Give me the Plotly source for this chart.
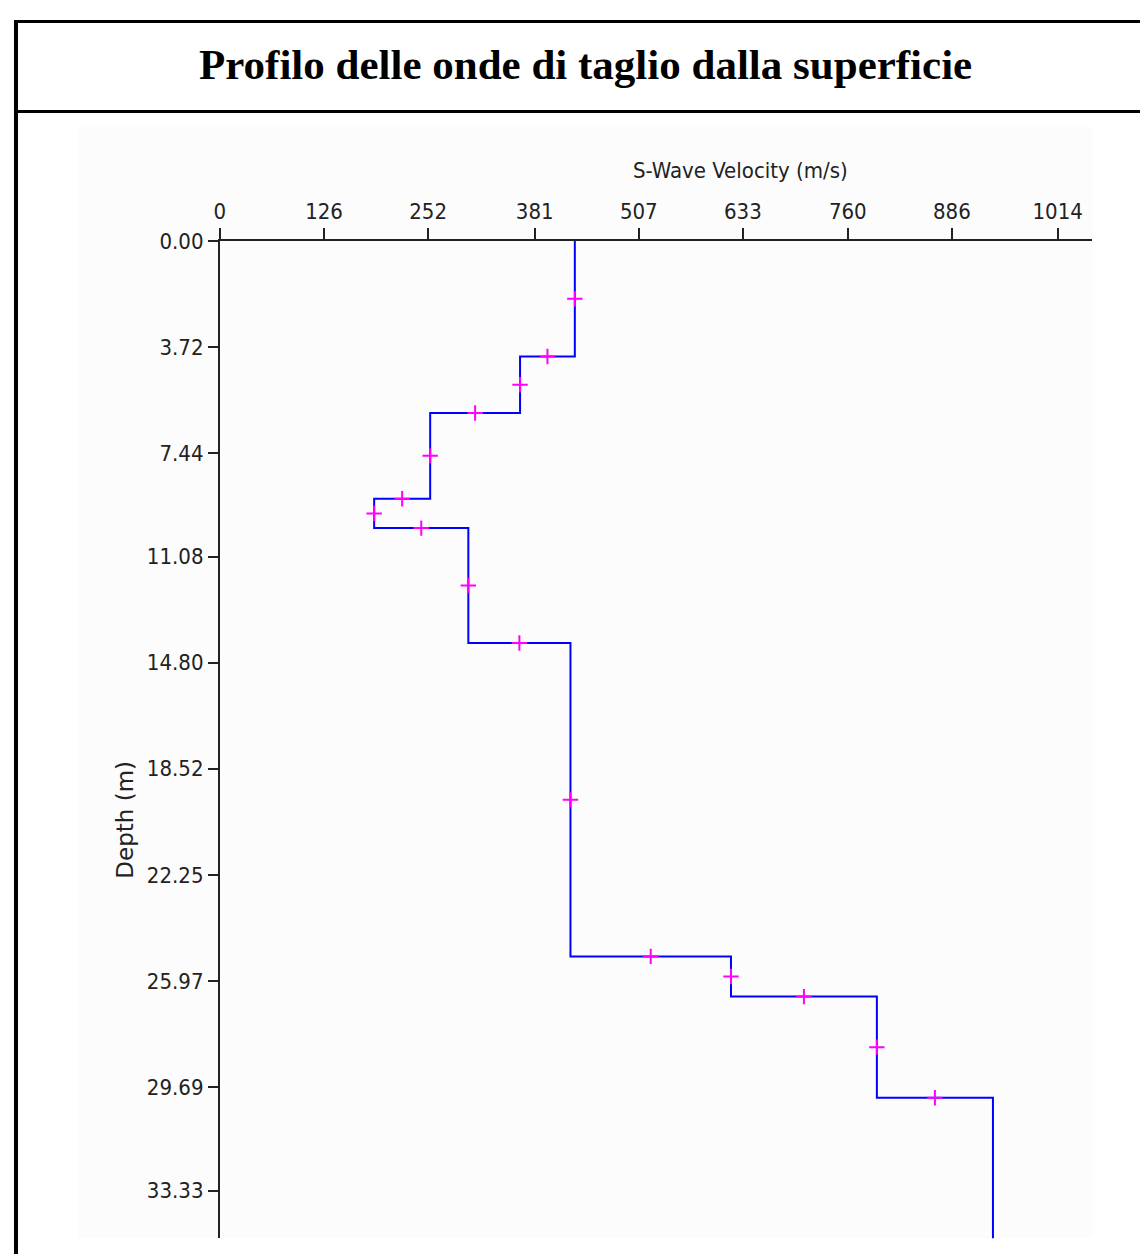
import plotly.graph_objects as go

# ---- data ----
layer_velocity = [429.6, 363.3, 254.5, 186.7, 300.7, 424.3, 618.6, 795.2, 935.7]   # m/s
layer_bottom = [4.06, 6.04, 9.05, 10.08, 14.11, 25.11, 26.52, 30.07, 42.0]          # m (last = half-space, drawn past axis end)
x_tick_vals = [0, 126, 252, 381, 507, 633, 760, 886, 1014]
x_tick_text = ["0", "126", "252", "381", "507", "633", "760", "886", "1014"]
y_tick_vals = [0.00, 3.72, 7.44, 11.08, 14.80, 18.52, 22.25, 25.97, 29.69, 33.33]
y_tick_text = ["0.00", "3.72", "7.44", "11.08", "14.80", "18.52", "22.25", "25.97", "29.69", "33.33"]
title_text = "Profilo delle onde di taglio dalla superficie"
x_title = "S-Wave Velocity (m/s)"
y_title = "Depth (m)"

# ---- build step profile and segment mid markers ----
step_x, step_y = [], []
mark_x, mark_y = [], []
top = 0.0
for i, (v, b) in enumerate(zip(layer_velocity, layer_bottom)):
    step_x += [v, v]
    step_y += [top, b]
    mark_x.append(v)
    mark_y.append((top + b) / 2)
    if i + 1 < len(layer_velocity):
        nv = layer_velocity[i + 1]
        mark_x.append((v + nv) / 2)
        mark_y.append(b)
    top = b

W, H = 1148, 1254
OFF = 8  # page body margin: figure starts 8px into the window

def px(x):
    return (x - OFF) / W

def py(y):
    return 1 - (y - OFF) / H

tick_font = dict(family="DejaVu Sans Condensed, DejaVu Sans, sans-serif", size=22, color="#222222")

fig = go.Figure()
fig.add_trace(go.Scatter(x=step_x, y=step_y, mode="lines",
                         line=dict(color="#0000ff", width=2), showlegend=False, hoverinfo="skip"))
fig.add_trace(go.Scatter(x=mark_x, y=mark_y, mode="markers",
                         marker=dict(symbol="cross-thin", size=11, line=dict(color="#ff00ff", width=2)),
                         showlegend=False))

fig.update_layout(
    width=W, height=H,
    margin=dict(l=0, r=0, t=0, b=0),
    paper_bgcolor="white",
    plot_bgcolor="#fcfcfc",
    xaxis=dict(domain=[px(215), px(1092)], range=[0, 1056], side="top",
               tickvals=x_tick_vals, ticktext=x_tick_text, tickfont=tick_font,
               ticks="outside", ticklen=11, tickwidth=2, tickcolor="#222222",
               showline=True, linecolor="#222222", linewidth=2,
               showgrid=False, zeroline=False, anchor="y"),
    yaxis=dict(domain=[py(1238), py(231)], range=[35.0, 0],
               tickvals=y_tick_vals, ticktext=y_tick_text, tickfont=tick_font,
               ticks="outside", ticklen=10, tickwidth=2, tickcolor="#222222",
               showline=True, linecolor="#222222", linewidth=2,
               showgrid=False, zeroline=False, anchor="x"),
    shapes=[
        dict(type="rect", xref="paper", yref="paper", x0=px(73), x1=px(1092), y0=py(1238), y1=py(116),
             fillcolor="#fcfcfc", line=dict(width=0), layer="below"),
        dict(type="line", xref="paper", yref="paper", x0=px(8), x1=1, y0=py(9.5), y1=py(9.5),
             line=dict(color="black", width=3)),
        dict(type="line", xref="paper", yref="paper", x0=px(8), x1=1, y0=py(100.5), y1=py(100.5),
             line=dict(color="black", width=3)),
        dict(type="line", xref="paper", yref="paper", x0=px(10), x1=px(10), y0=0, y1=py(8),
             line=dict(color="black", width=4)),
    ],
    annotations=[
        dict(text="<b>" + title_text + "</b>", xref="paper", yref="paper", x=px(583), y=py(53),
             xanchor="center", yanchor="middle", showarrow=False,
             font=dict(family="Liberation Serif, Times New Roman, serif", size=43, color="black")),
        dict(text=x_title, xref="paper", yref="paper", x=px(738), y=py(160),
             xanchor="center", yanchor="middle", showarrow=False,
             font=dict(family="DejaVu Sans Condensed, DejaVu Sans, sans-serif", size=22, color="#222222")),
        dict(text=y_title, xref="paper", yref="paper", x=px(120), y=py(815),
             xanchor="center", yanchor="middle", showarrow=False, textangle=-90,
             font=dict(family="DejaVu Sans, sans-serif", size=23, color="#222222")),
    ],
)

fig.write_html("out.html")
